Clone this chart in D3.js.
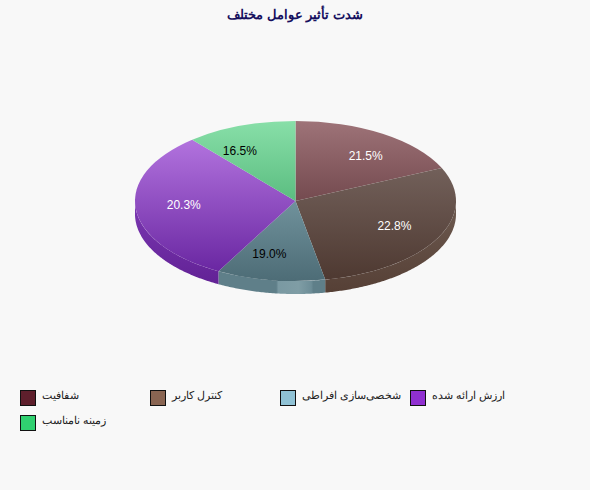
<!DOCTYPE html>
<html>
<head>
<meta charset="utf-8">
<script src="https://cdnjs.cloudflare.com/ajax/libs/d3/7.8.5/d3.min.js"></script>
<style>
  body { margin: 0; background: #f8f8f8; }
  text { font-family: "Liberation Sans", Arial, sans-serif; }
</style>
</head>
<body>
<div id="chart"></div>
<script>
const WIDTH = 590, HEIGHT = 490;

// data
const categories = ["شفافیت", "کنترل کاربر", "شخصی‌سازی  افراطی", "ارزش ارائه شده", "زمینه نامناسب"];
const values = [21.5, 22.8, 19.0, 20.3, 16.5];
const valueLabels = ["21.5%", "22.8%", "19.0%", "20.3%", "16.5%"];

// colours
const legendColors = ["#5e1f2c", "#8a6552", "#90c2d5", "#9030d0", "#30d070"];
const topLight = ["#9e7378", "#72605a", "#70929c", "#b273de", "#88dfa8"];
const topDark = ["#744a4f", "#4e3931", "#4d6c76", "#6a27a2", "#5bbd80"];
const wallLight = ["#6e4a4e", "#6e5b51", "#5f7f89", "#7b38b2", "#5bbd80"];
const wallDark = ["#6e4a4e", "#553f35", "#5f7f89", "#5f1f92", "#5bbd80"];
const labelColors = ["#fff", "#fff", "#000", "#fff", "#000"];

const CX = 295.5, CY = 201, RX = 160.5, RY = 80, DEPTH = 13;

let svg = d3.select("#chart").append("svg")
  .attr("width", WIDTH)
  .attr("height", HEIGHT)
  .style("display", "block");

let defs = svg.append("defs");

// TITLE
svg.append("text")
  .attr("x", 295)
  .attr("y", 19)
  .attr("text-anchor", "middle")
  .attr("font-size", 13.2)
  .attr("font-weight", "bold")
  .attr("fill", "#16105e")
  .text("شدت تأثیر عوامل مختلف");

// PIE - the slices are true angles cut out of an ellipse
const pie = d3.pie().sort(null).value(d => d);
const arcs = pie(values);

// screen angle to the parameter angle of the ellipse
const toParam = a => {
  let t = Math.atan2(Math.sin(a) / RX, Math.cos(a) / RY);
  return t < 0 ? t + 2 * Math.PI : t;
};
arcs.forEach(d => {
  d.t0 = toParam(d.startAngle);
  d.t1 = d.endAngle >= 2 * Math.PI - 1e-6 ? 2 * Math.PI : toParam(d.endAngle);
});

const xs = t => CX + RX * Math.sin(t);
const ys = t => CY - RY * Math.cos(t);

arcs.forEach((d, i) => {
  let g = defs.append("linearGradient").attr("id", "top" + i)
    .attr("x1", 0).attr("y1", 0).attr("x2", 0).attr("y2", 1);
  g.append("stop").attr("offset", 0).attr("stop-color", topLight[i]);
  g.append("stop").attr("offset", 1).attr("stop-color", topDark[i]);

  let w = defs.append("linearGradient").attr("id", "wall" + i)
    .attr("gradientUnits", "userSpaceOnUse")
    .attr("x1", 0).attr("y1", CY).attr("x2", 0).attr("y2", CY + RY + DEPTH);
  w.append("stop").attr("offset", 0).attr("stop-color", wallLight[i]);
  w.append("stop").attr("offset", 1).attr("stop-color", wallDark[i]);
});

// the highlight on the front of the blue wall
let shine = defs.append("linearGradient").attr("id", "shine")
  .attr("gradientUnits", "userSpaceOnUse")
  .attr("x1", 219).attr("y1", 0).attr("x2", 325).attr("y2", 0);
[[0, "#5f7f89"], [0.54, "#5f7f89"], [0.56, "#7a99a2"], [0.75, "#7f9da5"], [0.87, "#6d8d97"], [0.89, "#5f7f89"], [1, "#5f7f89"]]
  .forEach(s => shine.append("stop").attr("offset", s[0]).attr("stop-color", s[1]));

// WALLS - only the lower half of the ellipse shows
const wall = d3.area()
  .x(t => xs(t))
  .y0(t => ys(t))
  .y1(t => ys(t) + DEPTH);

let walls = svg.append("g");
arcs.forEach((d, i) => {
  const from = Math.max(d.t0, Math.PI / 2), to = Math.min(d.t1, 3 * Math.PI / 2);
  if (to <= from) return;
  walls.append("path")
    .attr("d", wall(d3.range(from, to, 0.01).concat(to)))
    .attr("fill", i === 2 ? "url(#shine)" : `url(#wall${i})`);
});

// TOP FACE
const arc = d3.arc().innerRadius(0).outerRadius(RX);
svg.append("g")
  .attr("transform", `translate(${CX}, ${CY}) scale(1, ${RY / RX})`)
  .selectAll("path")
  .data(arcs)
  .enter()
  .append("path")
  .attr("d", d => arc({ startAngle: d.t0, endAngle: d.t1 }))
  .attr("fill", (d, i) => `url(#top${i})`);

// VALUE LABELS
svg.selectAll(".value")
  .data(arcs)
  .enter()
  .append("text")
  .attr("class", "value")
  .attr("x", d => CX + 0.7 * RX * Math.sin((d.startAngle + d.endAngle) / 2))
  .attr("y", d => CY - 0.7 * RY * Math.cos((d.startAngle + d.endAngle) / 2) - 1.5)
  .attr("dy", "0.35em")
  .attr("text-anchor", "middle")
  .attr("font-size", 12)
  .attr("fill", (d, i) => labelColors[i])
  .text((d, i) => valueLabels[i]);

// LEGEND
const legendX = d3.scaleLinear().domain([0, 1]).range([20, 150]);
const legendY = d3.scaleLinear().domain([0, 1]).range([390, 415]);

let legend = svg.selectAll(".legend")
  .data(categories)
  .enter()
  .append("g")
  .attr("class", "legend")
  .attr("transform", (d, i) => `translate(${legendX(i % 4)}, ${legendY(Math.floor(i / 4))})`);

legend.append("rect")
  .attr("x", 0.5)
  .attr("y", 0.5)
  .attr("width", 15)
  .attr("height", 15)
  .attr("fill", (d, i) => legendColors[i])
  .attr("stroke", "#111");

legend.append("text")
  .attr("x", 22)
  .attr("y", 9)
  .attr("font-size", 11)
  .attr("fill", "#222")
  .text(d => d);
</script>
</body>
</html>
